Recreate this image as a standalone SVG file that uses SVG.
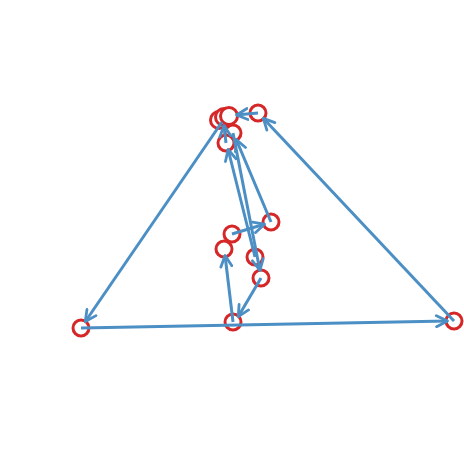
<svg xmlns="http://www.w3.org/2000/svg" width="464" height="462" viewBox="0 0 464 462">
<style>
.n circle{fill:#fff;stroke:#d62728;stroke-width:3}
.n text{fill:#fff;font-family:"Liberation Sans",Arial,sans-serif;font-size:10px;text-anchor:middle;dominant-baseline:central}
#edges line{stroke:#4b8fc4;stroke-width:3;marker-end:url(#ah)}
</style>
<defs>
<marker id="ah" viewBox="0 0 14 14" refX="13" refY="7" markerWidth="14" markerHeight="14" markerUnits="userSpaceOnUse" orient="auto">
<path d="M1.5,1.5 L12.5,7 L1.5,12.5" fill="none" stroke="#4b8fc4" stroke-width="2.8" stroke-linecap="round" stroke-linejoin="round"/>
</marker>
</defs>
<rect width="464" height="462" fill="#fff"/>
<g id="n6" class="n"><circle cx="219" cy="120" r="8.5"/><text x="217" y="120">6</text></g>
<g id="n11" class="n"><circle cx="224" cy="117" r="8.5"/><text x="224" y="116">1</text></g>
<g id="n13" class="n"><circle cx="229" cy="116" r="8.5"/><text x="231" y="115">5</text></g>
<g id="n0" class="n"><circle cx="258" cy="113" r="8"/><text x="258" y="113">0</text></g>
<g id="n5" class="n"><circle cx="233" cy="133" r="8"/><text x="233" y="133">5</text></g>
<g id="n9" class="n"><circle cx="226" cy="143" r="8"/><text x="226" y="143">9</text></g>
<g id="n4" class="n"><circle cx="271" cy="222" r="8"/><text x="271" y="222">4</text></g>
<g id="n10" class="n"><circle cx="232" cy="234" r="8"/><text x="232" y="234">10</text></g>
<g id="n8" class="n"><circle cx="224" cy="249" r="8"/><text x="224" y="249">8</text></g>
<g id="n1" class="n"><circle cx="255" cy="257" r="8"/><text x="255" y="257">1</text></g>
<g id="n12" class="n"><circle cx="261" cy="278" r="8"/><text x="261" y="278">12</text></g>
<g id="n7" class="n"><circle cx="233" cy="322" r="8"/><text x="233" y="322">7</text></g>
<g id="n2" class="n"><circle cx="81" cy="328" r="8"/><text x="81" y="328">2</text></g>
<g id="n3" class="n"><circle cx="454" cy="321" r="8"/><text x="454" y="321">3</text></g>
<g id="edges">
<line x1="454" y1="321" x2="263" y2="118"/>
<line x1="81" y1="328" x2="448" y2="321"/>
<line x1="222" y1="122" x2="85" y2="322"/>
<line x1="258" y1="113" x2="236" y2="115"/>
<line x1="233" y1="322" x2="225" y2="255"/>
<line x1="232" y1="234" x2="265" y2="224"/>
<line x1="271" y1="222" x2="236" y2="139"/>
<line x1="255" y1="257" x2="228" y2="149"/>
<line x1="233" y1="133" x2="260" y2="271"/>
<line x1="261" y1="278" x2="238" y2="317"/>
<line x1="226" y1="143" x2="224" y2="125"/>
</g>
</svg>
